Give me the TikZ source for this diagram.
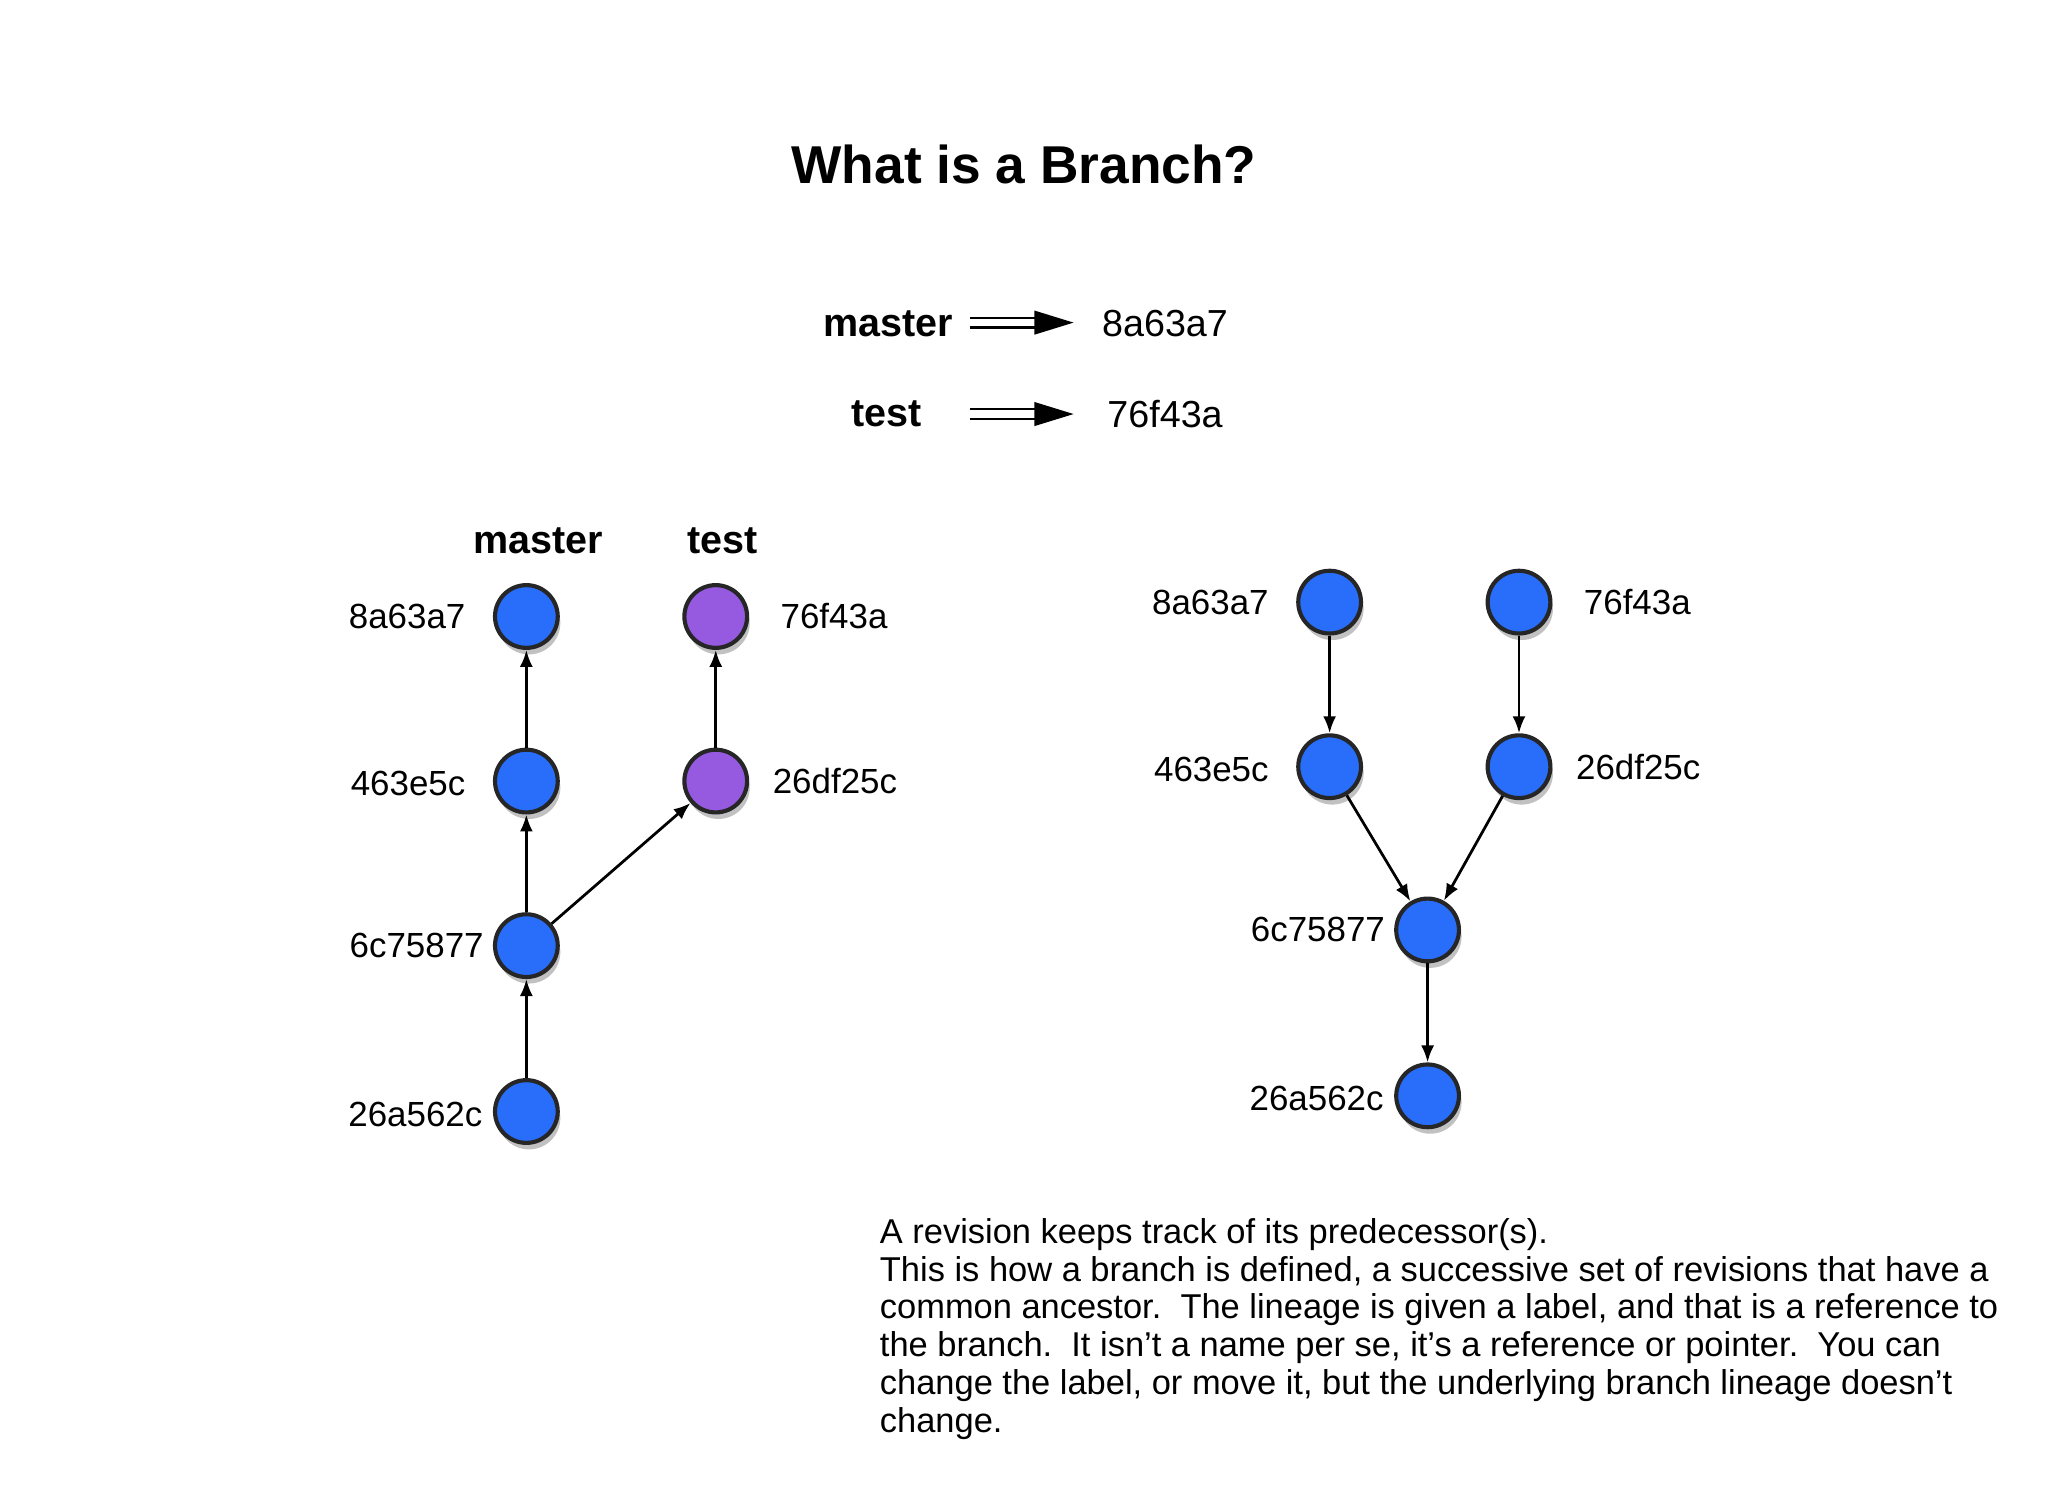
\documentclass[tikz,border=0pt]{standalone}
\usepackage{fontspec}
\setmainfont{Liberation Sans}
\usetikzlibrary{arrows.meta,shadows}
\begin{document}
\begin{tikzpicture}[x=0.01cm,y=-0.01cm,
  c/.style={circle,draw=black!85,line width=0.9pt,minimum size=0.48cm,inner sep=0pt,
    drop shadow={shadow xshift=0.02cm,shadow yshift=-0.05cm,opacity=0.35,fill=black!70}},
  blue/.style={c,fill={rgb,255:red,40;green,110;blue,250}},
  purp/.style={c,fill={rgb,255:red,150;green,90;blue,225}},
  lab/.style={font=\fontsize{7.6pt}{9pt}\selectfont,inner sep=0pt},
  hd/.style={font=\fontsize{8.6pt}{10pt}\selectfont\bfseries,inner sep=0pt},
  ar/.style={-{Latex[length=0.13cm,width=0.1cm]},line width=0.6pt},
  dar/.style={double,double distance=1.6pt,line width=0.5pt,-{Triangle[length=0.3cm,width=0.18cm]}}]
\useasboundingbox (0,0) rectangle (1568,1148);
\node[font=\fontsize{11.6pt}{13pt}\selectfont\bfseries] (title) at (784,126) {What is a Branch?};
% legend
\node[hd] (lm) at (680,248) {master};
\node[hd] (lt) at (679,317) {test};
\coordinate (m1) at (743,247); \coordinate (m2) at (822,247);
\coordinate (t1) at (743,317); \coordinate (t2) at (822,317);
\node[lab,font=\fontsize{8.2pt}{10pt}\selectfont] (lmv) at (892,248) {8a63a7};
\node[lab,font=\fontsize{8.2pt}{10pt}\selectfont] (ltv) at (892,317) {76f43a};
\draw[dar] (m1) -- (m2);
\draw[dar] (t1) -- (t2);
% left graph
\node[hd] (hm) at (412,414) {master};
\node[hd] (ht) at (553,414) {test};
\node[blue] (a1) at (403,472) {};
\node[blue] (a2) at (403,598) {};
\node[blue] (a3) at (403,724) {};
\node[blue] (a4) at (403,851) {};
\node[purp] (b1) at (548,472) {};
\node[purp] (b2) at (548,598) {};
\node[lab,anchor=east] (la1) at (357,472) {8a63a7};
\node[lab,anchor=east] (la2) at (357,600) {463e5c};
\node[lab,anchor=east] (la3) at (371,724) {6c75877};
\node[lab,anchor=east] (la4) at (370,853) {26a562c};
\node[lab,anchor=west] (lb1) at (597,472) {76f43a};
\node[lab,anchor=west] (lb2) at (591,598) {26df25c};
\draw[ar] (a4) -- (a3);
\draw[ar] (a3) -- (a2);
\draw[ar] (a2) -- (a1);
\draw[ar] (b2) -- (b1);
\draw[ar] (a3) -- (b2);
% right graph
\node[blue] (r1) at (1018,461) {};
\node[blue] (r2) at (1163,461) {};
\node[blue] (r3) at (1018,587) {};
\node[blue] (r4) at (1163,587) {};
\node[blue] (r5) at (1093,712) {};
\node[blue] (r6) at (1093,839) {};
\node[lab,anchor=east] (lr1) at (972,461) {8a63a7};
\node[lab,anchor=west] (lr2) at (1212,461) {76f43a};
\node[lab,anchor=east] (lr3) at (972,589) {463e5c};
\node[lab,anchor=west] (lr4) at (1206,587) {26df25c};
\node[lab,anchor=east] (lr5) at (1061,712) {6c75877};
\node[lab,anchor=east] (lr6) at (1060,841) {26a562c};
\draw[ar] (r1) -- (r3);
\draw[ar] (r2) -- (r4);
\draw[ar] (r3) -- (r5);
\draw[ar] (r4) -- (r5);
\draw[ar] (r5) -- (r6);
% text
\node[anchor=north west,inner sep=0pt,align=left,font=\fontsize{7.5pt}{8.25pt}\selectfont] (para) at (673,932) {A revision keeps track of its predecessor(s).\\
This is how a branch is defined, a successive set of revisions that have a\\
common ancestor.\ \ The lineage is given a label, and that is a reference to\\
the branch.\ \ It isn't a name per se, it's a reference or pointer.\ \ You can\\
change the label, or move it, but the underlying branch lineage doesn't\\
change.};
\end{tikzpicture}
\end{document}
